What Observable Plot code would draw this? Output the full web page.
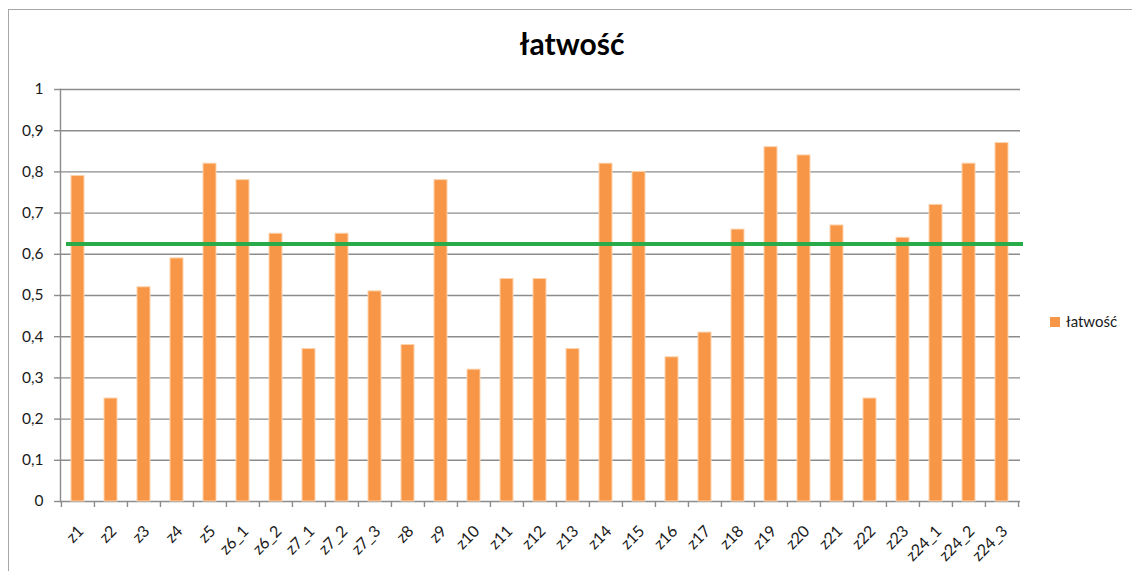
<!DOCTYPE html>
<html><head><meta charset="utf-8">
<script src="https://cdn.jsdelivr.net/npm/d3@7"></script>
<script src="https://cdn.jsdelivr.net/npm/@observablehq/plot@0.6"></script>
<style>
body{margin:0;background:#fff;}
#wrap{position:relative;width:1132px;height:571px;overflow:hidden;font-family:Lato,"Open Sans",sans-serif;}
#frame{position:absolute;left:8px;top:9px;width:1300px;height:800px;border-left:1.5px solid #a6a6a6;border-top:1.5px solid #a6a6a6;box-sizing:border-box;}
#chart{position:absolute;left:0;top:0;}
#title{position:absolute;left:6px;width:1132px;top:28px;text-align:center;font-weight:bold;font-size:30px;line-height:1;color:#000;}
#legend{position:absolute;left:1050px;top:314px;display:flex;align-items:center;font-size:15px;line-height:1;color:#1a1a1a;}
#legend .sw{width:10px;height:10px;background:#F79646;margin-right:6px;}
</style></head>
<body>
<div id="wrap">
  <div id="frame"></div>
  <div id="chart"></div>
  <div id="title"></div>
  <div id="legend"><span class="sw"></span><span id="legtext"></span></div>
</div>
<script>
const chartTitle = "łatwość";
const seriesName = "łatwość";
const categories = ["z1","z2","z3","z4","z5","z6_1","z6_2","z7_1","z7_2","z7_3","z8","z9","z10","z11","z12","z13","z14","z15","z16","z17","z18","z19","z20","z21","z22","z23","z24_1","z24_2","z24_3"];
const values = [0.79,0.25,0.52,0.59,0.82,0.78,0.65,0.37,0.65,0.51,0.38,0.78,0.32,0.54,0.54,0.37,0.82,0.80,0.35,0.41,0.66,0.86,0.84,0.67,0.25,0.64,0.72,0.82,0.87];
const yTicks = [0,0.1,0.2,0.3,0.4,0.5,0.6,0.7,0.8,0.9,1];
const referenceLevel = 0.625;

const data = categories.map((c, i) => ({cat: c, value: values[i]}));
const W = 1132, H = 571, mL = 60, mR = 112, mT = 89, mB = 70;
const step = (W - mL - mR) / categories.length;
const grey = "#8c8c8c";
const fmt = d => String(d).replace(".", ",");

document.getElementById("title").textContent = chartTitle;
document.getElementById("legtext").textContent = seriesName;

const chart = Plot.plot({
  width: W, height: H,
  marginLeft: mL, marginRight: mR, marginTop: mT, marginBottom: mB,
  style: {fontFamily: "Lato, 'Open Sans', sans-serif", fontSize: "15px", background: "transparent", overflow: "visible"},
  x: {domain: categories, paddingInner: 0.6, paddingOuter: 0.3, label: null},
  y: {domain: [0, 1], label: null},
  marks: [
    Plot.gridY(yTicks.filter(d => d > 0), {stroke: grey, strokeOpacity: 1, strokeWidth: 1.4}),
    Plot.axisY(yTicks, {tickSize: 6, text: null, stroke: grey, strokeOpacity: 1, strokeWidth: 1.4}),
    Plot.axisY(yTicks, {tickSize: 0, tickPadding: 17, tickFormat: fmt, fontSize: 15.5, fill: "#1a1a1a", label: null}),
    Plot.frame({anchor: "left", stroke: grey, strokeWidth: 1.4}),
    Plot.ruleY([0], {stroke: grey, strokeWidth: 1.4}),
    Plot.axisX(categories, {tickSize: 6, text: null, dx: -step / 2, stroke: grey, strokeWidth: 1.4, label: null}),
    Plot.axisX([categories[categories.length - 1]], {tickSize: 6, text: null, dx: step / 2, stroke: grey, strokeWidth: 1.4, label: null}),
    Plot.axisX(categories, {tickSize: 0, tickPadding: 27, tickRotate: -45, dx: 3, fontSize: 16, fill: "#1a1a1a", label: null}),
    Plot.barY(data, {x: "cat", y: "value", fill: "#F79646", stroke: "#fcd3ad", strokeWidth: 1}),
    Plot.ruleY([referenceLevel], {stroke: "#2aab4a", strokeWidth: 4, insetLeft: 6, insetRight: -3})
  ]
});
document.getElementById("chart").appendChild(chart);
</script>
</body></html>
